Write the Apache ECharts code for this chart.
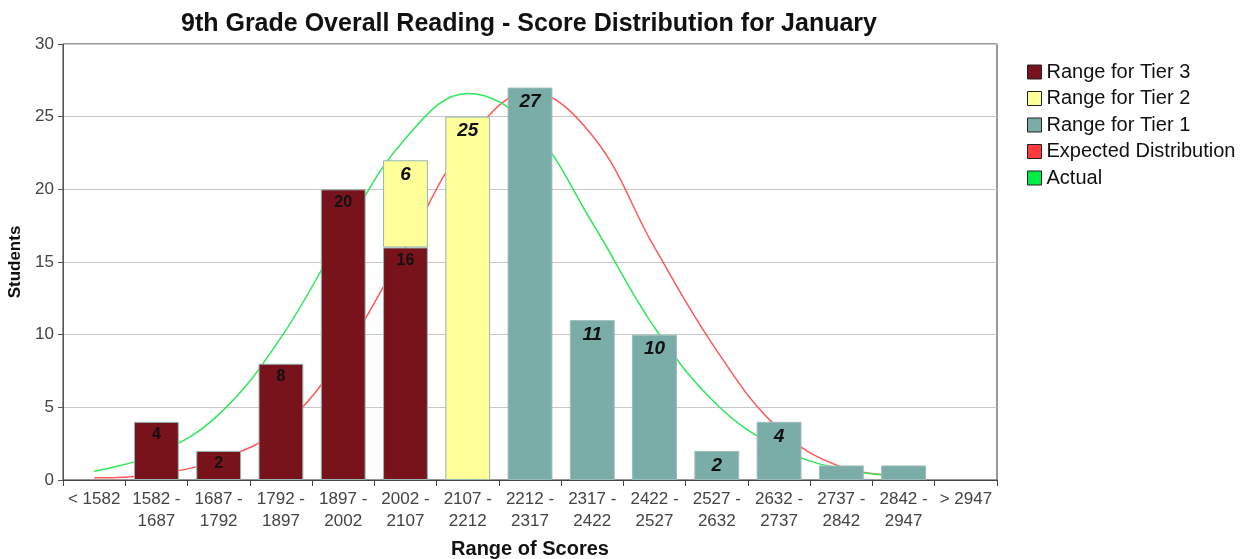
<!DOCTYPE html>
<html>
<head>
<meta charset="utf-8">
<script src="https://cdn.jsdelivr.net/npm/echarts@6/dist/echarts.min.js"></script>
<style>
  html, body { margin: 0; padding: 0; background: #fff; }
  #chart { width: 1244px; height: 559px; }
</style>
</head>
<body>
<div id="chart"></div>
<script>
  var categories = ['< 1582', '1582 -\n1687', '1687 -\n1792', '1792 -\n1897', '1897 -\n2002', '2002 -\n2107',
    '2107 -\n2212', '2212 -\n2317', '2317 -\n2422', '2422 -\n2527', '2527 -\n2632', '2632 -\n2737',
    '2737 -\n2842', '2842 -\n2947', '> 2947']
  var tier3 = [null, 4, 2, 8, 20, 16, null, null, null, null, null, null, null, null, null]
  var tier2 = [null, null, null, null, null, 6, 25, null, null, null, null, null, null, null, null]
  var tier1 = [null, null, null, null, null, null, null, 27, 11, 10, 2, 4, 1, 1, null]
  var expected = [0.15, 0.4, 1.4, 3.6, 8.7, 16, 23.3, 26.7, 23.7, 16, 8.9, 3.5, 0.9, 0.3, null]
  var actual = [0.6, 1.8, 4.5, 9.8, 17, 23.5, 26.6, 24.3, 17.7, 10.5, 5.2, 2.2, 0.75, 0.25, null]
  var yTicks = { min: 0, max: 30, interval: 5 }

  var font = 'Liberation Sans, Arial, sans-serif'

  /*  柱状图标签 */
  function barLabel(italic, size) {
    return {
      show: true,
      position: 'insideTop',
      distance: 5,
      fontFamily: font,
      fontWeight: 'bold',
      fontStyle: italic ? 'italic' : 'normal',
      fontSize: size,
      color: '#111',
      formatter: function (p) {
        return p.value > 1 ? p.value : ''
      }
    }
  }

  var chart = echarts.init(document.getElementById('chart'))
  chart.setOption({
    animation: false,
    title: {
      text: '9th Grade Overall Reading - Score Distribution for January',
      left: 524,
      textAlign: 'center',
      top: 7,
      textStyle: { fontFamily: font, fontSize: 25, fontWeight: 'bold', color: '#111' }
    },
    legend: {
      orient: 'vertical',
      left: 1027,
      top: 62,
      padding: 0,
      itemWidth: 14,
      itemHeight: 14,
      itemGap: 6.5,
      itemTextGap: 8,
      textStyle: { fontFamily: font, fontSize: 20, color: '#111' },
      data: [
        { name: 'Range for Tier 3', icon: 'rect', itemStyle: { color: '#78121b', borderColor: '#222', borderWidth: 1 } },
        { name: 'Range for Tier 2', icon: 'rect', itemStyle: { color: '#ffff99', borderColor: '#222', borderWidth: 1 } },
        { name: 'Range for Tier 1', icon: 'rect', itemStyle: { color: '#7aaca8', borderColor: '#222', borderWidth: 1 } },
        { name: 'Expected Distribution', icon: 'rect', itemStyle: { color: '#ff3b3b', borderColor: '#222', borderWidth: 1 } },
        { name: 'Actual', icon: 'rect', itemStyle: { color: '#00ee44', borderColor: '#222', borderWidth: 1 } }
      ]
    },
    grid: {
      left: 63,
      right: 247,
      top: 44,
      bottom: 79,
      outerBoundsMode: 'none',
      show: true,
      borderColor: '#333',
      borderWidth: 1
    },
    xAxis: {
      type: 'category',
      data: categories,
      name: 'Range of Scores',
      nameLocation: 'middle',
      nameGap: 59,
      nameTextStyle: { fontFamily: font, fontSize: 20, fontWeight: 'bold', color: '#111' },
      axisLine: { lineStyle: { color: '#444' } },
      axisTick: { show: true, length: 6, lineStyle: { color: '#444' } },
      axisLabel: { interval: 0, margin: 8, fontFamily: font, fontSize: 17, lineHeight: 22, color: '#444' }
    },
    yAxis: {
      type: 'value',
      min: yTicks.min,
      max: yTicks.max,
      interval: yTicks.interval,
      name: 'Students',
      nameLocation: 'middle',
      nameGap: 34,
      nameTextStyle: { fontFamily: font, fontSize: 17, fontWeight: 'bold', color: '#111' },
      axisLine: { show: true, lineStyle: { color: '#555' } },
      axisTick: { show: true, length: 5, lineStyle: { color: '#555' } },
      axisLabel: { margin: 9, fontFamily: font, fontSize: 17, color: '#444' },
      splitLine: { show: true, lineStyle: { color: '#c8c8c8', width: 1 } }
    },
    series: [
      {
        name: 'Range for Tier 3',
        type: 'bar',
        stack: 'total',
        barWidth: '72%',
        z: 3,
        itemStyle: { color: '#78121b', borderColor: '#96b6b3', borderWidth: 1 },
        label: barLabel(false, 16),
        data: tier3
      },
      {
        name: 'Range for Tier 2',
        type: 'bar',
        stack: 'total',
        z: 3,
        itemStyle: { color: '#ffff99', borderColor: '#96b6b3', borderWidth: 1 },
        label: barLabel(true, 19),
        data: tier2
      },
      {
        name: 'Range for Tier 1',
        type: 'bar',
        stack: 'total',
        z: 3,
        itemStyle: { color: '#7aaca8', borderColor: '#9cbcb9', borderWidth: 1 },
        label: barLabel(true, 19),
        data: tier1
      },
      {
        name: 'Expected Distribution',
        type: 'line',
        z: 1,
        smooth: 0.4,
        symbol: 'none',
        itemStyle: { color: '#ff3b3b' },
        lineStyle: { color: '#ff5a5a', width: 1.5 },
        data: expected
      },
      {
        name: 'Actual',
        type: 'line',
        z: 1,
        smooth: 0.4,
        symbol: 'none',
        itemStyle: { color: '#00ee44' },
        lineStyle: { color: '#2ee85a', width: 1.5 },
        data: actual
      }
    ]
  })
</script>
</body>
</html>
